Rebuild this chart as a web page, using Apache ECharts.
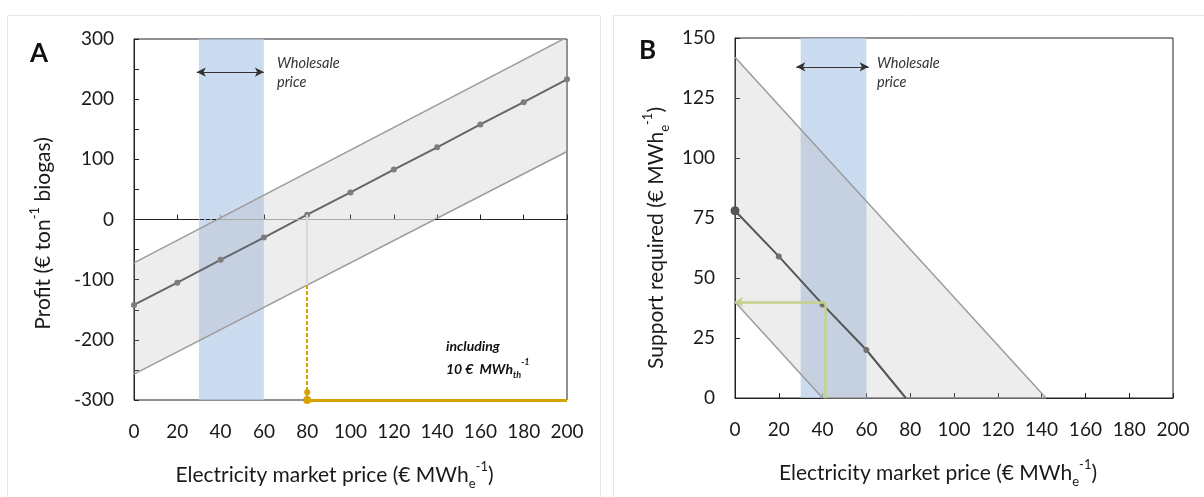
<!DOCTYPE html>
<html>
<head>
<meta charset="utf-8">
<script src="https://cdn.jsdelivr.net/npm/echarts@6/dist/echarts.min.js"></script>
<style>
  html, body { margin: 0; padding: 0; background: #fff; }
  #chart { width: 1204px; height: 497px; }
</style>
</head>
<body>
<div id="chart"></div>
<script>
// x positions (electricity market price, € MWh_e^-1)
const priceTicks = [0, 20, 40, 60, 80, 100, 120, 140, 160, 180, 200];

// panel A: profit per ton biogas
const profitMid = [-142, -105, -67, -30, 8, 45, 83, 120, 158, 195, 233];
const profitBandPrice = [0, 200];
const profitUpper = [-72, 303];
const profitLower = [-257, 113];
const zeroCrossings = [39, 139];   // where the band edges cross zero
const breakEven = 80;
const breakEvenLow = -109;         // lower band edge at break-even

// panel B: support required
const supportPrice = [0, 20, 40, 60, 78];
const supportMid = [78, 59, 39, 20, 0];
const supportBandPrice = [0, 40, 142];
const supportUpper = [142, 102, 0];
const supportLower = [40, 0, 0];
const heatSupport = [41, 40];      // [price, support] with heat revenue

const wholesale = [30, 60];
const arrowA = [29, 60, 245];
const arrowB = [28, 61, 138];

const pairs = (xs, ys) => xs.map((x, i) => [x, ys[i]]);

const FONT = 'Lato, "Open Sans", sans-serif';
const txt = '#1a1a1a';
const bandLine = { color: '#9c9c9c', width: 1.5 };
const gold = '#d6a200';

const nameRich = {
  t: { fontSize: 21, color: txt, fontFamily: FONT, lineHeight: 30 },
  sub: { fontSize: 13, color: txt, fontFamily: FONT, verticalAlign: 'bottom', lineHeight: 13 },
  sup: { fontSize: 13, color: txt, fontFamily: FONT, verticalAlign: 'top', lineHeight: 13 }
};
const xName = '{t|Electricity market price (€ MWh}{sub|e}{sup|-1}{t|)}';

function xAxisOf(idx) {
  return {
    type: 'value', gridIndex: idx, min: 0, max: 200, interval: 20,
    name: xName, nameLocation: 'middle', nameGap: 60,
    nameTextStyle: { rich: nameRich, padding: [0, 32, 0, 0] },
    axisLine: { lineStyle: { color: '#222', width: 1 } },
    axisTick: { inside: true, length: 5, lineStyle: { color: '#222' } },
    axisLabel: { fontSize: 19, color: txt, fontFamily: FONT, margin: 22 },
    splitLine: { show: false }
  };
}

function wholesaleSeries(idx, arrow) {
  return {
    type: 'line', xAxisIndex: idx, yAxisIndex: idx, data: [], z: 1, silent: true,
    markArea: {
      silent: true,
      itemStyle: { color: 'rgba(182,205,233,0.7)' },
      data: [[{ xAxis: wholesale[0] }, { xAxis: wholesale[1] }]]
    },
    markLine: {
      silent: true, symbol: ['arrow', 'arrow'], symbolSize: [7, 9],
      label: { show: false },
      lineStyle: { color: '#333', width: 1, type: 'solid' },
      data: [[{ coord: [arrow[0], arrow[2]] }, { coord: [arrow[1], arrow[2]] }]]
    }
  };
}

// shaded uncertainty band between an upper and a lower edge
function bandSeries(idx, xs, up, lo) {
  return {
    type: 'custom', xAxisIndex: idx, yAxisIndex: idx, z: 2, silent: true, clip: true,
    data: xs.map((x, i) => [x, up[i], lo[i]]),
    encode: { x: 0, y: [1, 2] },
    renderItem(params, api) {
      const i = params.dataIndex;
      if (i >= xs.length - 1) return null;
      const pts = [
        api.coord([xs[i], up[i]]), api.coord([xs[i + 1], up[i + 1]]),
        api.coord([xs[i + 1], lo[i + 1]]), api.coord([xs[i], lo[i]])
      ];
      return { type: 'polygon', shape: { points: pts }, style: { fill: 'rgba(175,175,175,0.22)' } };
    }
  };
}

function edgeSeries(idx, xs, ys) {
  return {
    type: 'line', xAxisIndex: idx, yAxisIndex: idx, z: 3, silent: true,
    symbol: 'none', lineStyle: bandLine, data: pairs(xs, ys)
  };
}

function seg(a, b, style, sym) {
  return [{ coord: a, lineStyle: style, symbol: sym ? sym[0] : 'none' },
          { coord: b, symbol: sym ? sym[1] : 'none' }];
}

const chart = echarts.init(document.getElementById('chart'));
chart.setOption({
  animation: false,
  backgroundColor: '#fff',
  textStyle: { fontFamily: FONT },
  grid: [
    { left: 134, top: 39, width: 433, height: 361, show: true, borderColor: '#222', borderWidth: 1 },
    { left: 735, top: 38, width: 438, height: 360, show: true, borderColor: '#222', borderWidth: 1 }
  ],
  xAxis: [xAxisOf(0), xAxisOf(1)],
  yAxis: [
    {
      type: 'value', gridIndex: 0, min: -300, max: 300, interval: 50,
      name: '{t|Profit (€ ton}{sup|-1}{t| biogas)}', nameLocation: 'middle', nameGap: 76,
      nameTextStyle: { rich: nameRich, padding: [0, 28, 0, 0] },
      axisLine: { show: true, lineStyle: { color: '#222' } },
      axisTick: { show: true, inside: true, length: 5, lineStyle: { color: '#222' } },
      axisLabel: {
        fontSize: 19, color: txt, fontFamily: FONT, margin: 20,
        formatter: v => (v % 100 === 0 ? String(v) : '')
      },
      splitLine: { show: false }
    },
    {
      type: 'value', gridIndex: 1, min: 0, max: 150, interval: 25,
      name: '{t|Support required (€ MWh}{sub|e}{sup|-1}{t|)}', nameLocation: 'middle', nameGap: 64,
      nameTextStyle: { rich: nameRich, padding: [0, 40, 0, 0] },
      axisLine: { show: true, lineStyle: { color: '#222' } },
      axisTick: { show: true, inside: true, length: 5, lineStyle: { color: '#222' } },
      axisLabel: { fontSize: 19, color: txt, fontFamily: FONT, margin: 20 },
      splitLine: { show: false }
    }
  ],
  series: [
    // ---- panel A ----
    wholesaleSeries(0, arrowA),
    bandSeries(0, profitBandPrice, profitUpper, profitLower),
    edgeSeries(0, profitBandPrice, profitUpper),
    edgeSeries(0, profitBandPrice, profitLower),
    {
      type: 'line', xAxisIndex: 0, yAxisIndex: 0, data: [], z: 3, silent: true,
      markLine: {
        silent: true, symbol: 'none', label: { show: false },
        data: [
          seg([0, 0], [zeroCrossings[0], 0], { color: '#222', width: 1, type: 'dashed' }),
          seg([zeroCrossings[0], 0], [zeroCrossings[1], 0], { color: '#a8a8a8', width: 1, type: 'solid' }),
          seg([zeroCrossings[1], 0], [200, 0], { color: '#222', width: 1, type: 'dashed' }),
          seg([breakEven, profitMid[4]], [breakEven, breakEvenLow], { color: '#d9d6e6', width: 2, type: 'solid' }),
          seg([breakEven, breakEvenLow], [breakEven, -300], { color: gold, width: 2, type: [4, 2] }),
          seg([breakEven, -300], [200, -300], { color: gold, width: 3, type: 'solid' })
        ]
      },
      markPoint: {
        silent: true, symbol: 'circle', symbolSize: 8,
        itemStyle: { color: gold }, label: { show: false },
        data: [{ coord: [breakEven, -300] }, { coord: [breakEven, -287], symbolSize: 6 }]
      }
    },
    {
      type: 'line', xAxisIndex: 0, yAxisIndex: 0, z: 4, silent: true,
      symbol: 'circle', symbolSize: 6,
      itemStyle: { color: '#7d7d7d' },
      lineStyle: { color: '#666', width: 2 },
      data: pairs(priceTicks, profitMid)
    },
    // ---- panel B ----
    wholesaleSeries(1, arrowB),
    bandSeries(1, supportBandPrice, supportUpper, supportLower),
    edgeSeries(1, supportBandPrice, supportUpper),
    edgeSeries(1, supportBandPrice, supportLower),
    {
      type: 'line', xAxisIndex: 1, yAxisIndex: 1, data: [], z: 3, silent: true,
      markLine: {
        silent: true, symbol: 'none', label: { show: false },
        data: [
          seg([heatSupport[0], heatSupport[1]], [0, heatSupport[1]], { color: '#c2d28a', width: 2.5, type: 'solid' }, ['none', 'arrow']),
          seg([heatSupport[0], heatSupport[1]], [heatSupport[0], 0], { color: '#c2d28a', width: 2.5, type: 'solid' })
        ],
        symbolSize: [8, 8]
      }
    },
    {
      type: 'line', xAxisIndex: 1, yAxisIndex: 1, z: 4, silent: true,
      symbol: 'circle', symbolSize: 6,
      itemStyle: { color: '#6f6f6f' },
      lineStyle: { color: '#555', width: 2 },
      data: pairs(supportPrice, supportMid).map((p, i) => {
        if (i === 0) return { value: p, symbolSize: 9, itemStyle: { color: '#555' } };
        if (i === supportPrice.length - 1) return { value: p, symbol: 'none' };
        return p;
      })
    }
  ],
  graphic: [
    { type: 'rect', shape: { x: 7.5, y: 15.5, width: 593, height: 490 }, style: { fill: 'none', stroke: '#e6e6e6', lineWidth: 1 }, z: -1, silent: true },
    { type: 'rect', shape: { x: 613.5, y: 15.5, width: 600, height: 490 }, style: { fill: 'none', stroke: '#e6e6e6', lineWidth: 1 }, z: -1, silent: true },
    { type: 'text', left: 30, top: 41, style: { text: 'A', font: 'bold 26px ' + FONT, fill: '#111' } },
    { type: 'text', left: 639, top: 38, style: { text: 'B', font: 'bold 26px ' + FONT, fill: '#111' } },
    { type: 'text', left: 277, top: 54, style: { text: 'Wholesale\nprice', font: 'italic 14.5px ' + FONT, fill: '#333', lineHeight: 19 } },
    { type: 'text', left: 877, top: 54, style: { text: 'Wholesale\nprice', font: 'italic 14.5px ' + FONT, fill: '#333', lineHeight: 19 } },
    { type: 'text', left: 446, top: 339, style: { text: 'including', font: 'bold italic 14px ' + FONT, fill: '#111' } },
    {
      type: 'text', left: 446, top: 358,
      style: {
        text: '{a|10 €  MWh}{b|th}{c|-1}',
        rich: {
          a: { font: 'bold italic 14px ' + FONT, fill: '#111', lineHeight: 22 },
          b: { font: 'bold italic 9px ' + FONT, fill: '#111', verticalAlign: 'bottom', lineHeight: 9 },
          c: { font: 'bold italic 9px ' + FONT, fill: '#111', verticalAlign: 'top', lineHeight: 9 }
        }
      }
    }
  ]
});
</script>
</body>
</html>
